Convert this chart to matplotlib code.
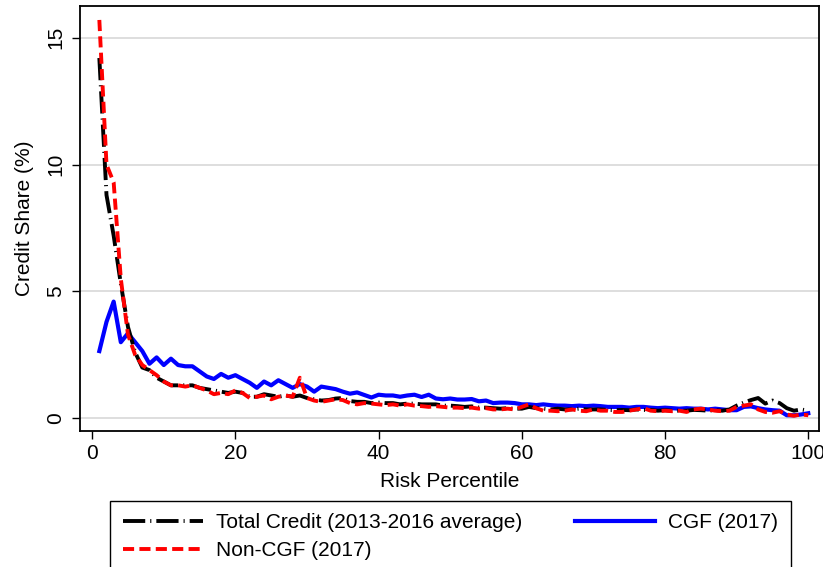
import matplotlib
matplotlib.use("Agg")
import matplotlib.pyplot as plt
import numpy as np

plt.rcParams['font.family'] = ['Liberation Sans', 'DejaVu Sans']
plt.rcParams['lines.scale_dashes'] = False

percentile = list(range(1, 101))

total_credit = [
    14.2, 8.8, 7.2, 5.3, 3.6, 2.6, 2.0, 1.9, 1.6, 1.45,
    1.3, 1.3, 1.3, 1.3, 1.2, 1.15, 1.1, 1.05, 1.0, 1.05,
    1.0, 0.85, 0.85, 0.95, 0.9, 0.85, 0.9, 0.85, 0.9, 0.8,
    0.75, 0.7, 0.72, 0.78, 0.8, 0.68, 0.65, 0.65, 0.6, 0.62,
    0.6, 0.6, 0.55, 0.58, 0.58, 0.55, 0.55, 0.55, 0.5, 0.5,
    0.48, 0.45, 0.47, 0.43, 0.42, 0.4, 0.38, 0.4, 0.38, 0.38,
    0.45, 0.4, 0.38, 0.35, 0.38, 0.35, 0.35, 0.38, 0.35, 0.35,
    0.35, 0.33, 0.32, 0.33, 0.32, 0.35, 0.33, 0.33, 0.3, 0.32,
    0.3, 0.3, 0.3, 0.33, 0.32, 0.3, 0.32, 0.3, 0.35, 0.5,
    0.62, 0.72, 0.8, 0.58, 0.7, 0.6, 0.4, 0.3, 0.35, 0.3,
]

non_cgf = [
    15.7, 10.0, 9.3, 5.5, 3.3, 2.5, 2.1, 1.9, 1.7, 1.45,
    1.3, 1.3, 1.25, 1.3, 1.2, 1.1, 0.95, 1.0, 0.95, 1.1,
    1.0, 0.8, 0.85, 0.9, 0.75, 0.85, 0.9, 0.85, 1.6, 0.8,
    0.7, 0.65, 0.7, 0.75, 0.72, 0.6, 0.55, 0.6, 0.58, 0.55,
    0.52, 0.55, 0.5, 0.55, 0.5, 0.48, 0.45, 0.48, 0.45, 0.42,
    0.42, 0.4, 0.42, 0.38, 0.4, 0.35, 0.35, 0.38, 0.35, 0.45,
    0.55, 0.4, 0.3, 0.3, 0.28, 0.3, 0.35, 0.3, 0.28, 0.35,
    0.3, 0.3, 0.25, 0.25, 0.3, 0.35, 0.4, 0.3, 0.28, 0.3,
    0.28, 0.3, 0.25, 0.35, 0.38, 0.35, 0.3, 0.28, 0.3, 0.45,
    0.5, 0.55, 0.35, 0.25, 0.22, 0.28, 0.15, 0.1, 0.15, 0.12,
]

cgf = [
    2.65, 3.8, 4.6, 3.0, 3.35, 3.0, 2.65, 2.15, 2.4, 2.1,
    2.35, 2.1, 2.05, 2.05, 1.85, 1.65, 1.55, 1.75, 1.6, 1.7,
    1.55, 1.4, 1.2, 1.45, 1.3, 1.5, 1.35, 1.2, 1.35, 1.25,
    1.05, 1.25, 1.2, 1.15, 1.05, 0.97, 1.02, 0.92, 0.82, 0.93,
    0.9, 0.9, 0.85, 0.9, 0.93, 0.84, 0.93, 0.78, 0.75, 0.78,
    0.74, 0.74, 0.76, 0.67, 0.7, 0.6, 0.62, 0.62, 0.6, 0.55,
    0.55, 0.52, 0.55, 0.52, 0.5, 0.5, 0.48, 0.5, 0.48, 0.5,
    0.48, 0.45, 0.45, 0.45, 0.42, 0.45, 0.45, 0.42, 0.4, 0.42,
    0.4, 0.38, 0.4, 0.38, 0.38, 0.35, 0.38, 0.35, 0.32, 0.32,
    0.45, 0.47, 0.4, 0.35, 0.32, 0.3, 0.12, 0.12, 0.15, 0.2,
]

xticks = [0, 20, 40, 60, 80, 100]
yticks = [0, 5, 10, 15]

W, H = 823, 567
fig = plt.figure(figsize=(W / 100, H / 100), dpi=100)
ax = fig.add_axes([80 / W, 1 - 431 / H, (819 - 80) / W, (431 - 6) / H])

ax.plot(percentile, cgf, color='#0000ff', lw=3.0, solid_joinstyle='round',
        label='CGF (2017)', zorder=3)
ax.plot(percentile, total_credit, color='black', lw=2.8,
        dashes=(16.0, 3.6, 0.8, 3.6), label='Total Credit (2013-2016 average)', zorder=4)
ax.plot(percentile, non_cgf, color='#ff0000', lw=2.8,
        dashes=(8.0, 3.8), label='Non-CGF (2017)', zorder=5)

ax.set_xlim(-1.7, 101.5)
ax.set_ylim(-0.5, 16.25)
ax.set_xticks(xticks)
ax.set_yticks(yticks)
ax.tick_params(axis='both', direction='out', length=5.5, width=1, labelsize=15, color='black')
ax.tick_params(axis='x', pad=4)
ax.tick_params(axis='y', pad=5)
for lab in ax.get_yticklabels():
    lab.set_rotation(90)
    lab.set_va('center')
ax.yaxis.grid(True, color='#dedede', lw=1.4)
ax.set_axisbelow(True)
for s in ax.spines.values():
    s.set_linewidth(1.3)

ax.set_xlabel('Risk Percentile', fontsize=15, labelpad=6)
ax.set_ylabel('Credit Share (%)', fontsize=15, labelpad=9)

h, l = ax.get_legend_handles_labels()
order = [1, 2, 0]
leg = fig.legend([h[i] for i in order], [l[i] for i in order], ncol=2,
                 loc='upper left',
                 bbox_to_anchor=(110 / W, 1 - 501 / H),
                 borderaxespad=0.0, fancybox=False, edgecolor='black',
                 fontsize=15, handlelength=3.85, handletextpad=0.65,
                 columnspacing=2.5, borderpad=0.6, labelspacing=0.4,
                 framealpha=1)
leg.get_frame().set_linewidth(1.0)

fig.savefig('out.png', dpi=100)
